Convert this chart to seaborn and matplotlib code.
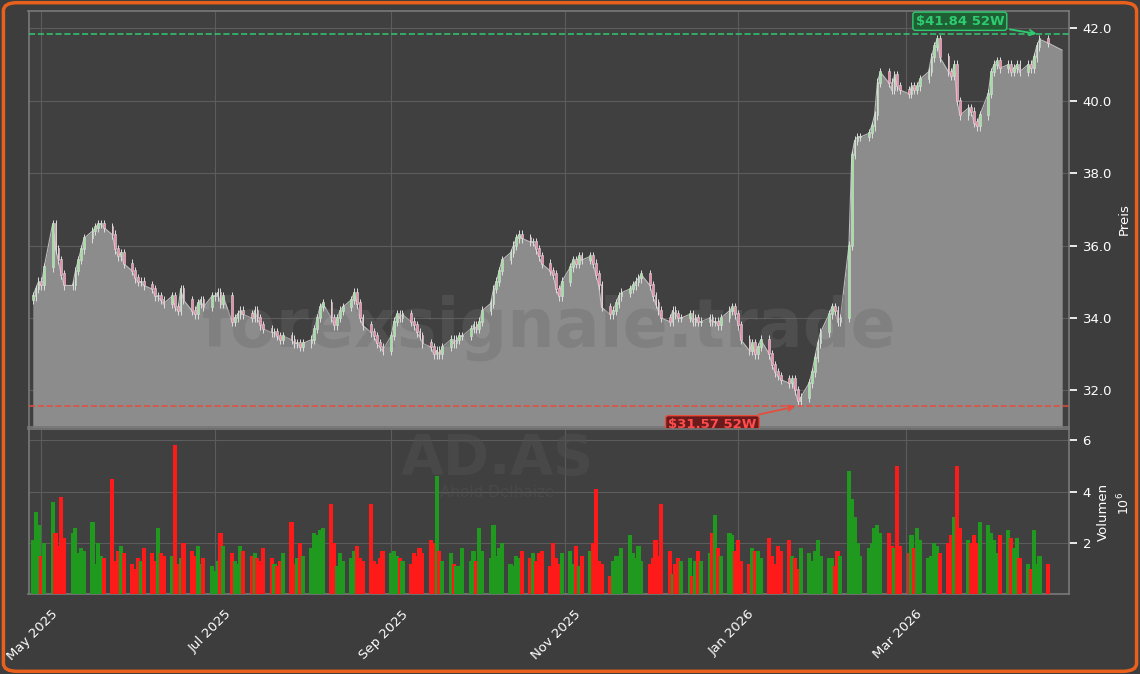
import numpy as np
import pandas as pd
import matplotlib
matplotlib.use("Agg")
import matplotlib.pyplot as plt
import matplotlib.dates as mdates
import matplotlib.transforms as mtrans
from matplotlib.patches import FancyBboxPatch
import seaborn as sns

sns.set_theme(style="dark")
plt.rcParams['font.family'] = ['DejaVu Sans']

start_date = "2025-04-28"
closes = [
34.6,34.8,35.0,34.9,35.4,36.6,35.9,35.6,35.2,34.9,
34.9,35.3,35.6,35.9,36.2,36.4,36.5,36.6,36.6,36.5,
36.3,35.9,35.7,35.8,35.5,35.3,35.1,35.0,35.0,34.9,
34.8,34.6,34.6,34.5,34.4,34.6,34.3,34.2,34.8,34.5,
34.2,34.1,34.4,34.5,34.3,34.6,34.6,34.7,34.4,34.6,
33.9,34.0,34.1,34.2,34.1,34.0,34.2,34.0,33.8,33.7,
33.6,33.6,33.5,33.4,33.5,33.4,33.3,33.3,33.2,33.3,
33.4,33.7,34.0,34.3,34.4,34.0,33.8,34.0,34.2,34.3,
34.5,34.7,34.4,34.0,33.8,33.6,33.5,33.3,33.2,33.1,
33.5,33.9,34.1,34.0,34.1,33.9,33.8,33.6,33.5,33.3,
33.2,33.0,33.1,33.0,33.2,33.4,33.3,33.4,33.5,33.5,
33.7,33.8,33.7,33.9,34.2,34.4,34.8,35.0,35.3,35.6,
35.8,36.0,36.2,36.3,36.2,36.1,36.1,35.9,35.7,35.5,
35.3,35.2,34.8,34.6,35.0,35.4,35.6,35.5,35.7,35.6,
35.7,35.5,35.2,34.9,34.3,34.1,34.2,34.4,34.6,34.7,
34.8,34.9,35.0,35.1,35.2,34.9,34.6,34.4,34.2,34.0,
33.9,34.2,34.1,34.0,34.0,34.1,33.9,34.0,33.9,33.9,
34.0,33.9,33.9,33.8,34.0,34.2,34.3,34.1,33.8,33.4,
33.1,33.3,33.0,33.2,33.4,33.0,32.7,32.5,32.4,32.3,
32.2,32.3,32.0,31.7,31.8,32.2,32.5,32.9,33.3,33.6,
34.1,34.3,34.2,33.9,34.0,36.0,38.5,38.9,39.0,39.0,
39.1,39.3,39.6,40.5,40.8,40.5,40.3,40.7,40.4,40.3,
40.2,40.4,40.3,40.4,40.6,40.8,41.2,41.5,41.7,41.2,
40.8,40.7,41.0,40.0,39.6,39.8,39.7,39.4,39.3,39.6,
40.2,40.8,41.0,41.1,40.9,41.0,40.8,40.9,41.0,40.8,
41.0,40.9,41.2,41.5,41.7,41.6]
volumes = [
2.1,3.2,2.7,1.5,2.0,3.6,2.4,1.9,3.8,2.2,
2.4,2.6,1.6,1.8,1.7,2.8,1.2,2.0,1.5,1.4,
4.5,1.3,1.7,1.9,1.6,1.2,1.0,1.4,1.3,1.8,
1.6,1.3,2.6,1.6,1.5,1.5,5.8,1.2,1.4,2.0,
1.7,1.5,1.9,1.2,1.4,1.1,0.9,1.3,2.4,1.9,
1.6,1.3,1.2,1.9,1.7,1.5,1.6,1.4,1.3,1.8,
1.4,1.2,1.1,1.3,1.6,2.8,1.2,1.4,2.0,1.5,
1.8,2.4,2.3,2.5,2.6,3.5,2.0,1.1,1.6,1.3,
1.4,1.7,1.9,1.4,1.3,3.5,1.3,1.2,1.4,1.7,
1.6,1.7,1.5,1.4,1.3,1.2,1.6,1.5,1.8,1.6,
2.1,2.0,4.6,1.7,1.3,1.6,1.2,1.1,1.1,1.8,
1.3,1.7,1.3,2.6,1.7,1.4,2.7,1.5,1.8,2.0,
1.2,1.1,1.5,1.4,1.7,1.4,1.6,1.3,1.6,1.7,
1.1,2.0,1.4,1.2,1.6,1.7,1.2,1.9,1.1,1.5,
1.7,2.0,4.1,1.3,1.2,0.7,1.3,1.5,1.5,1.8,
2.3,1.6,1.4,1.9,1.3,1.2,1.4,2.1,1.5,3.5,
1.7,0.8,1.2,1.4,1.3,1.4,0.7,1.3,1.7,1.3,
1.6,2.4,3.1,1.8,1.5,2.4,2.3,1.7,2.1,1.3,
1.2,1.8,1.7,1.7,1.4,2.2,1.5,1.2,1.9,1.7,
2.1,1.5,1.4,1.0,1.8,1.6,1.3,1.7,2.1,1.5,
1.4,1.4,1.1,1.7,1.5,4.8,3.7,3.0,2.0,1.5,
1.8,2.0,2.6,2.7,2.4,2.4,1.9,1.8,5.0,1.9,
1.6,2.3,1.8,2.6,2.1,1.4,1.5,2.0,1.9,1.6,
2.0,2.3,3.0,5.0,2.6,2.1,2.0,2.3,2.0,2.8,
2.7,2.4,2.1,1.6,2.3,2.5,2.2,1.8,2.2,1.4,
1.2,1.0,2.5,1.2,1.5,1.2]

dates = pd.bdate_range(start_date, periods=len(closes))
df = pd.DataFrame({"date": dates, "close": closes, "volume": volumes})
df["open"] = df["close"].shift(1).fillna(df["close"].iloc[0] - 0.1)
df["up"] = df["close"] >= df["open"]
x = mdates.date2num(df["date"])

BG = "#3d3d3d"
fig = plt.figure(figsize=(11.4, 6.74), dpi=100, facecolor=BG)
fig.patches.append(FancyBboxPatch((0.003, 0.004), 0.994, 0.992, boxstyle="round,pad=0,rounding_size=0.012",
                                  transform=fig.transFigure, fill=False, ec="#e8601c", lw=2.5))
ax = fig.add_axes([0.025, 0.366, 0.913, 0.617])
axv = fig.add_axes([0.025, 0.118, 0.913, 0.245], sharex=ax)
for a in (ax, axv):
    a.set_facecolor("#404040")
    for s in a.spines.values():
        s.set_color("#777777")
    a.grid(True, color="#5c5c5c", lw=0.8)
    a.yaxis.tick_right()
    a.yaxis.set_label_position("right")
    a.tick_params(colors="white", labelsize=9.5)

xf = np.append(x, x[-1] + 5)
yf = np.append(df["close"].values, df["close"].values[-1] - 0.2)
ax.fill_between(xf, 30, yf, color="#8c8c8c", lw=0, zorder=1)
ax.plot(xf, yf, color="#bdbdbd", lw=0.8, zorder=2)

w = 0.6
lo = np.minimum(df["open"], df["close"])
hi = np.maximum(df["open"], df["close"])
ax.vlines(x, lo - 0.12, hi + 0.12, color="#dddddd", lw=0.7, zorder=3)
ax.bar(x[df["up"]], (hi - lo)[df["up"]] + 0.03, bottom=lo[df["up"]], width=w,
       color="#9be59b", edgecolor="#dddddd", lw=0.4, zorder=4)
ax.bar(x[~df["up"]], (hi - lo)[~df["up"]] + 0.03, bottom=lo[~df["up"]], width=w,
       color="#f08aa8", edgecolor="#dddddd", lw=0.4, zorder=4)

ax.set_ylim(30.98, 42.47)
ax.set_yticks([32, 34, 36, 38, 40, 42])
ax.set_yticklabels([f"{v:.1f}" for v in [32, 34, 36, 38, 40, 42]])
ax.set_ylabel("Preis", color="white", fontsize=9.5)
ax.set_xlim(x[0] - 1.5, x[-1] + 7.5)
plt.setp(ax.get_xticklabels(), visible=False)

hmax, hmin = 41.84, 31.57
ax.axhline(hmax, color="#2ecc71", ls="--", lw=1.2, alpha=0.9, zorder=5)
ax.axhline(hmin, color="#e74c3c", ls="--", lw=1.2, alpha=0.9, zorder=5)
imin = int(np.argmin(closes))
ax.annotate(f"${hmax:.2f} 52W", xy=(x[-2], hmax), xytext=(x[-2] - 28, 42.2), color="#2ecc71",
            fontsize=9.5, fontweight="bold", ha="center", va="center",
            bbox=dict(boxstyle="round,pad=0.2", fc="#1f5f33", ec="#2ecc71"),
            arrowprops=dict(arrowstyle="->", color="#2ecc71", lw=1.3), zorder=6)
ax.annotate(f"${hmin:.2f} 52W", xy=(x[imin], hmin), xytext=(x[imin] - 30, 31.05), color="#ff4d4d",
            fontsize=9.5, fontweight="bold", ha="center", va="center",
            bbox=dict(boxstyle="round,pad=0.2", fc="#6b1b1b", ec="#e74c3c"),
            arrowprops=dict(arrowstyle="->", color="#e74c3c", lw=1.3), zorder=6)
ax.text(0.5, 0.24, "forexsignale.trade", transform=ax.transAxes, fontsize=48, fontweight="bold",
        color="#6a6a6a", alpha=0.35, ha="center", va="center", zorder=2)

cols = np.where(df["up"], "#1f9a1f", "#ff1a1a")
axv.bar(x, df["volume"], width=1.45, color=cols, lw=0, zorder=3)
axv.set_ylim(0, 6.42)
axv.set_yticks([2, 4, 6])
axv.set_yticklabels(["2", "4", "6"])
axv.set_ylabel("Volumen", color="white", fontsize=9.5, labelpad=4)
axv.text(1.045, 0.55, r"$10^6$", transform=axv.transAxes, color="white", fontsize=9, rotation=90,
         va="center")
axv.text(0.45, 0.82, "AD.AS", transform=axv.transAxes, fontsize=40, fontweight="bold",
         color="#4f4f4f", alpha=0.6, ha="center", va="center", zorder=2)
axv.text(0.45, 0.62, "Ahold Delhaize", transform=axv.transAxes, fontsize=11,
         color="#4f4f4f", alpha=0.6, ha="center", va="center", zorder=2)
axv.xaxis.set_major_locator(mdates.MonthLocator(bymonth=[1, 3, 5, 7, 9, 11]))
axv.xaxis.set_major_formatter(mdates.DateFormatter("%b %Y"))
off = mtrans.ScaledTranslation(10 / 100, 0, fig.dpi_scale_trans)
for lab in axv.get_xticklabels():
    lab.set_rotation(45)
    lab.set_ha("right")
    lab.set_rotation_mode("anchor")
    lab.set_fontsize(9.5)
    lab.set_transform(lab.get_transform() + off)

fig.savefig("out.png", dpi=100, facecolor=BG)
